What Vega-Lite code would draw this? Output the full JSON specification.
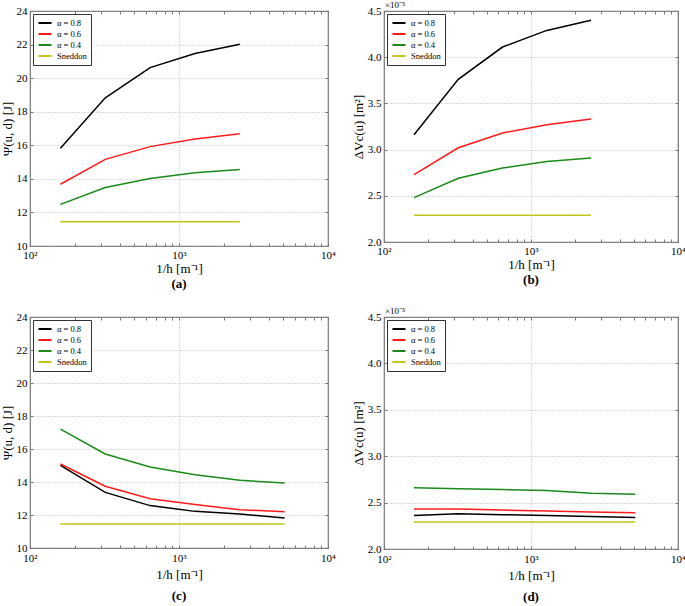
{
  "$schema": "https://vega.github.io/schema/vega-lite/v6.json",
  "padding": {"left": 0, "top": 0, "right": 5, "bottom": 5},
  "background": "white",
  "datasets": {
    "a": [
      {"h": 160, "v": 15.82, "s": "α = 0.8"}, {"h": 320, "v": 18.83, "s": "α = 0.8"}, {"h": 640, "v": 20.63, "s": "α = 0.8"}, {"h": 1280, "v": 21.47, "s": "α = 0.8"}, {"h": 2560, "v": 22.02, "s": "α = 0.8"},
      {"h": 160, "v": 13.68, "s": "α = 0.6"}, {"h": 320, "v": 15.16, "s": "α = 0.6"}, {"h": 640, "v": 15.92, "s": "α = 0.6"}, {"h": 1280, "v": 16.38, "s": "α = 0.6"}, {"h": 2560, "v": 16.69, "s": "α = 0.6"},
      {"h": 160, "v": 12.48, "s": "α = 0.4"}, {"h": 320, "v": 13.48, "s": "α = 0.4"}, {"h": 640, "v": 14.02, "s": "α = 0.4"}, {"h": 1280, "v": 14.36, "s": "α = 0.4"}, {"h": 2560, "v": 14.56, "s": "α = 0.4"},
      {"h": 160, "v": 11.45, "s": "Sneddon"}, {"h": 320, "v": 11.45, "s": "Sneddon"}, {"h": 640, "v": 11.45, "s": "Sneddon"}, {"h": 1280, "v": 11.45, "s": "Sneddon"}, {"h": 2560, "v": 11.45, "s": "Sneddon"}
    ],
    "b": [
      {"h": 160, "v": 3.16e-5, "s": "α = 0.8"}, {"h": 320, "v": 3.76e-5, "s": "α = 0.8"}, {"h": 640, "v": 4.11e-5, "s": "α = 0.8"}, {"h": 1280, "v": 4.29e-5, "s": "α = 0.8"}, {"h": 2560, "v": 4.40e-5, "s": "α = 0.8"},
      {"h": 160, "v": 2.73e-5, "s": "α = 0.6"}, {"h": 320, "v": 3.02e-5, "s": "α = 0.6"}, {"h": 640, "v": 3.18e-5, "s": "α = 0.6"}, {"h": 1280, "v": 3.27e-5, "s": "α = 0.6"}, {"h": 2560, "v": 3.33e-5, "s": "α = 0.6"},
      {"h": 160, "v": 2.48e-5, "s": "α = 0.4"}, {"h": 320, "v": 2.69e-5, "s": "α = 0.4"}, {"h": 640, "v": 2.80e-5, "s": "α = 0.4"}, {"h": 1280, "v": 2.87e-5, "s": "α = 0.4"}, {"h": 2560, "v": 2.91e-5, "s": "α = 0.4"},
      {"h": 160, "v": 2.29e-5, "s": "Sneddon"}, {"h": 320, "v": 2.29e-5, "s": "Sneddon"}, {"h": 640, "v": 2.29e-5, "s": "Sneddon"}, {"h": 1280, "v": 2.29e-5, "s": "Sneddon"}, {"h": 2560, "v": 2.29e-5, "s": "Sneddon"}
    ],
    "c": [
      {"h": 160, "v": 15.01, "s": "α = 0.8"}, {"h": 320, "v": 13.37, "s": "α = 0.8"}, {"h": 640, "v": 12.57, "s": "α = 0.8"}, {"h": 1280, "v": 12.22, "s": "α = 0.8"}, {"h": 2560, "v": 12.06, "s": "α = 0.8"}, {"h": 5120, "v": 11.82, "s": "α = 0.8"},
      {"h": 160, "v": 15.09, "s": "α = 0.6"}, {"h": 320, "v": 13.74, "s": "α = 0.6"}, {"h": 640, "v": 12.99, "s": "α = 0.6"}, {"h": 1280, "v": 12.63, "s": "α = 0.6"}, {"h": 2560, "v": 12.32, "s": "α = 0.6"}, {"h": 5120, "v": 12.20, "s": "α = 0.6"},
      {"h": 160, "v": 17.21, "s": "α = 0.4"}, {"h": 320, "v": 15.70, "s": "α = 0.4"}, {"h": 640, "v": 14.91, "s": "α = 0.4"}, {"h": 1280, "v": 14.44, "s": "α = 0.4"}, {"h": 2560, "v": 14.10, "s": "α = 0.4"}, {"h": 5120, "v": 13.94, "s": "α = 0.4"},
      {"h": 160, "v": 11.45, "s": "Sneddon"}, {"h": 320, "v": 11.45, "s": "Sneddon"}, {"h": 640, "v": 11.45, "s": "Sneddon"}, {"h": 1280, "v": 11.45, "s": "Sneddon"}, {"h": 2560, "v": 11.45, "s": "Sneddon"}, {"h": 5120, "v": 11.45, "s": "Sneddon"}
    ],
    "d": [
      {"h": 160, "v": 2.36e-5, "s": "α = 0.8"}, {"h": 320, "v": 2.38e-5, "s": "α = 0.8"}, {"h": 640, "v": 2.37e-5, "s": "α = 0.8"}, {"h": 1280, "v": 2.36e-5, "s": "α = 0.8"}, {"h": 2560, "v": 2.35e-5, "s": "α = 0.8"}, {"h": 5120, "v": 2.34e-5, "s": "α = 0.8"},
      {"h": 160, "v": 2.43e-5, "s": "α = 0.6"}, {"h": 320, "v": 2.43e-5, "s": "α = 0.6"}, {"h": 640, "v": 2.42e-5, "s": "α = 0.6"}, {"h": 1280, "v": 2.41e-5, "s": "α = 0.6"}, {"h": 2560, "v": 2.40e-5, "s": "α = 0.6"}, {"h": 5120, "v": 2.39e-5, "s": "α = 0.6"},
      {"h": 160, "v": 2.66e-5, "s": "α = 0.4"}, {"h": 320, "v": 2.65e-5, "s": "α = 0.4"}, {"h": 640, "v": 2.64e-5, "s": "α = 0.4"}, {"h": 1280, "v": 2.63e-5, "s": "α = 0.4"}, {"h": 2560, "v": 2.60e-5, "s": "α = 0.4"}, {"h": 5120, "v": 2.59e-5, "s": "α = 0.4"},
      {"h": 160, "v": 2.29e-5, "s": "Sneddon"}, {"h": 320, "v": 2.29e-5, "s": "Sneddon"}, {"h": 640, "v": 2.29e-5, "s": "Sneddon"}, {"h": 1280, "v": 2.29e-5, "s": "Sneddon"}, {"h": 2560, "v": 2.29e-5, "s": "Sneddon"}, {"h": 5120, "v": 2.29e-5, "s": "Sneddon"}
    ]
  },
  "vconcat": [
    {
      "hconcat": [
        {
          "width": 298, "height": 235,
          "title": {"text": "(a)"},
          "layer": [
            {
              "data": {"name": "a"},
              "mark": {"type": "line", "strokeWidth": 1.5},
              "encoding": {
                "x": {"field": "h", "type": "quantitative", "scale": {"type": "log", "domain": [100, 10000]},
                  "axis": {"orient": "bottom", "values": [100,200,300,400,500,600,700,800,900,1000,2000,3000,4000,5000,6000,7000,8000,9000,10000],
                    "labelExpr": "datum.value==100?'10²':datum.value==1000?'10³':datum.value==10000?'10⁴':''",
                    "gridOpacity": {"condition": {"test": "datum.value==1000", "value": 1}, "value": 0},
                    "title": "1/h [m⁻¹]"}},
                "y": {"field": "v", "type": "quantitative", "scale": {"domain": [10, 24]},
                  "axis": {"orient": "left", "values": [10,12,14,16,18,20,22,24], "title": "Ψ(u, d) [J]"}},
                "color": {"field": "s", "type": "nominal", "scale": {"domain": ["α = 0.8", "α = 0.6", "α = 0.4", "Sneddon"], "range": ["#000000", "#ff1a1a", "#1a8a1a", "#c4c41a"]}}
              }
            },
            {
              "data": {"values": [{"h": 100, "v": 24, "t": ""}]},
              "mark": {"type": "text"},
              "encoding": {
                "x": {"field": "h", "type": "quantitative", "scale": {"type": "log", "domain": [100, 10000]},
                  "axis": {"orient": "top", "values": [100,200,300,400,500,600,700,800,900,1000,2000,3000,4000,5000,6000,7000,8000,9000,10000], "labels": false, "grid": false, "title": null}},
                "y": {"field": "v", "type": "quantitative", "scale": {"domain": [10, 24]},
                  "axis": {"orient": "right", "values": [10,12,14,16,18,20,22,24], "labels": false, "grid": false, "title": null}},
                "text": {"field": "t"}
              }
            }
          ],
          "resolve": {"axis": {"x": "independent", "y": "independent"}}
        },
        {
          "width": 294, "height": 231,
          "title": {"text": "(b)"},
          "layer": [
            {
              "data": {"name": "b"},
              "mark": {"type": "line", "strokeWidth": 1.5},
              "encoding": {
                "x": {"field": "h", "type": "quantitative", "scale": {"type": "log", "domain": [100, 10000]},
                  "axis": {"orient": "bottom", "values": [100,200,300,400,500,600,700,800,900,1000,2000,3000,4000,5000,6000,7000,8000,9000,10000],
                    "labelExpr": "datum.value==100?'10²':datum.value==1000?'10³':datum.value==10000?'10⁴':''",
                    "gridOpacity": {"condition": {"test": "datum.value==1000", "value": 1}, "value": 0},
                    "title": "1/h [m⁻¹]"}},
                "y": {"field": "v", "type": "quantitative", "scale": {"domain": [2e-5, 4.5e-5]},
                  "axis": {"orient": "left", "values": [2e-5, 2.5e-5, 3e-5, 3.5e-5, 4e-5, 4.5e-5], "labelExpr": "format(datum.value*1e5, '.1f')", "title": "ΔVc(u) [m²]"}},
                "color": {"field": "s", "type": "nominal", "scale": {"domain": ["α = 0.8", "α = 0.6", "α = 0.4", "Sneddon"], "range": ["#000000", "#ff1a1a", "#1a8a1a", "#c4c41a"]}}
              }
            },
            {
              "data": {"values": [{"h": 100, "v": 4.5e-5, "t": "×10⁻⁵"}]},
              "mark": {"type": "text", "align": "left", "baseline": "bottom", "dx": 1, "dy": -1, "fontSize": 9},
              "encoding": {
                "x": {"field": "h", "type": "quantitative", "scale": {"type": "log", "domain": [100, 10000]},
                  "axis": {"orient": "top", "values": [100,200,300,400,500,600,700,800,900,1000,2000,3000,4000,5000,6000,7000,8000,9000,10000], "labels": false, "grid": false, "title": null}},
                "y": {"field": "v", "type": "quantitative", "scale": {"domain": [2e-5, 4.5e-5]},
                  "axis": {"orient": "right", "values": [2e-5, 2.5e-5, 3e-5, 3.5e-5, 4e-5, 4.5e-5], "labels": false, "grid": false, "title": null}},
                "text": {"field": "t"}
              }
            }
          ],
          "resolve": {"axis": {"x": "independent", "y": "independent"}}
        }
      ],
      "spacing": 14,
      "resolve": {"scale": {"color": "independent"}, "legend": {"color": "independent"}}
    },
    {
      "hconcat": [
        {
          "width": 298, "height": 231,
          "title": {"text": "(c)", "offset": 9},
          "layer": [
            {
              "data": {"name": "c"},
              "mark": {"type": "line", "strokeWidth": 1.5},
              "encoding": {
                "x": {"field": "h", "type": "quantitative", "scale": {"type": "log", "domain": [100, 10000]},
                  "axis": {"orient": "bottom", "values": [100,200,300,400,500,600,700,800,900,1000,2000,3000,4000,5000,6000,7000,8000,9000,10000],
                    "labelExpr": "datum.value==100?'10²':datum.value==1000?'10³':datum.value==10000?'10⁴':''",
                    "gridOpacity": {"condition": {"test": "datum.value==1000", "value": 1}, "value": 0},
                    "title": "1/h [m⁻¹]", "titlePadding": 5, "labelPadding": 7}},
                "y": {"field": "v", "type": "quantitative", "scale": {"domain": [10, 24]},
                  "axis": {"orient": "left", "values": [10,12,14,16,18,20,22,24], "title": "Ψ(u, d) [J]"}},
                "color": {"field": "s", "type": "nominal", "scale": {"domain": ["α = 0.8", "α = 0.6", "α = 0.4", "Sneddon"], "range": ["#000000", "#ff1a1a", "#1a8a1a", "#c4c41a"]}}
              }
            },
            {
              "data": {"values": [{"h": 100, "v": 24, "t": ""}]},
              "mark": {"type": "text"},
              "encoding": {
                "x": {"field": "h", "type": "quantitative", "scale": {"type": "log", "domain": [100, 10000]},
                  "axis": {"orient": "top", "values": [100,200,300,400,500,600,700,800,900,1000,2000,3000,4000,5000,6000,7000,8000,9000,10000], "labels": false, "grid": false, "title": null}},
                "y": {"field": "v", "type": "quantitative", "scale": {"domain": [10, 24]},
                  "axis": {"orient": "right", "values": [10,12,14,16,18,20,22,24], "labels": false, "grid": false, "title": null}},
                "text": {"field": "t"}
              }
            }
          ],
          "resolve": {"axis": {"x": "independent", "y": "independent"}}
        },
        {
          "width": 294, "height": 232,
          "title": {"text": "(d)", "offset": 9},
          "layer": [
            {
              "data": {"name": "d"},
              "mark": {"type": "line", "strokeWidth": 1.5},
              "encoding": {
                "x": {"field": "h", "type": "quantitative", "scale": {"type": "log", "domain": [100, 10000]},
                  "axis": {"orient": "bottom", "values": [100,200,300,400,500,600,700,800,900,1000,2000,3000,4000,5000,6000,7000,8000,9000,10000],
                    "labelExpr": "datum.value==100?'10²':datum.value==1000?'10³':datum.value==10000?'10⁴':''",
                    "gridOpacity": {"condition": {"test": "datum.value==1000", "value": 1}, "value": 0},
                    "title": "1/h [m⁻¹]", "titlePadding": 5, "labelPadding": 7}},
                "y": {"field": "v", "type": "quantitative", "scale": {"domain": [2e-5, 4.5e-5]},
                  "axis": {"orient": "left", "values": [2e-5, 2.5e-5, 3e-5, 3.5e-5, 4e-5, 4.5e-5], "labelExpr": "format(datum.value*1e5, '.1f')", "title": "ΔVc(u) [m²]"}},
                "color": {"field": "s", "type": "nominal", "scale": {"domain": ["α = 0.8", "α = 0.6", "α = 0.4", "Sneddon"], "range": ["#000000", "#ff1a1a", "#1a8a1a", "#c4c41a"]}}
              }
            },
            {
              "data": {"values": [{"h": 100, "v": 4.5e-5, "t": "×10⁻⁵"}]},
              "mark": {"type": "text", "align": "left", "baseline": "bottom", "dx": 1, "dy": -1, "fontSize": 9},
              "encoding": {
                "x": {"field": "h", "type": "quantitative", "scale": {"type": "log", "domain": [100, 10000]},
                  "axis": {"orient": "top", "values": [100,200,300,400,500,600,700,800,900,1000,2000,3000,4000,5000,6000,7000,8000,9000,10000], "labels": false, "grid": false, "title": null}},
                "y": {"field": "v", "type": "quantitative", "scale": {"domain": [2e-5, 4.5e-5]},
                  "axis": {"orient": "right", "values": [2e-5, 2.5e-5, 3e-5, 3.5e-5, 4e-5, 4.5e-5], "labels": false, "grid": false, "title": null}},
                "text": {"field": "t"}
              }
            }
          ],
          "resolve": {"axis": {"x": "independent", "y": "independent"}}
        }
      ],
      "spacing": 14,
      "resolve": {"scale": {"color": "independent"}, "legend": {"color": "independent"}}
    }
  ],
  "spacing": 14,
  "resolve": {"scale": {"color": "independent"}, "legend": {"color": "independent"}},
  "config": {
    "font": "Liberation Serif",
    "view": {"stroke": "#777777", "strokeWidth": 1.2},
    "title": {"orient": "bottom", "anchor": "middle", "fontSize": 13, "fontWeight": "bold", "font": "Liberation Serif", "offset": 3, "color": "#000"},
    "text": {"font": "Liberation Serif", "color": "#000"},
    "axis": {
      "domain": false,
      "labelFont": "Liberation Serif", "labelFontSize": 11, "labelColor": "#000",
      "titleFont": "Liberation Serif", "titleFontSize": 13, "titleFontWeight": "normal", "titleColor": "#000",
      "tickSize": -3, "tickColor": "#777777", "labelPadding": 6,
      "gridColor": "#aaaaaa", "gridDash": [1, 2], "gridWidth": 0.8,
      "labelOverlap": false, "labelFlush": false, "titlePadding": 2
    },
    "legend": {
      "orient": "top-left", "offset": 3, "padding": 4, "strokeColor": "#333333", "fillColor": "white",
      "symbolType": "stroke", "symbolStrokeWidth": 2, "symbolSize": 170, "clipHeight": 10, "labelFont": "Liberation Serif",
      "labelFontSize": 8.5, "labelColor": "#000", "rowPadding": 1, "title": null, "cornerRadius": 0
    }
  }
}
